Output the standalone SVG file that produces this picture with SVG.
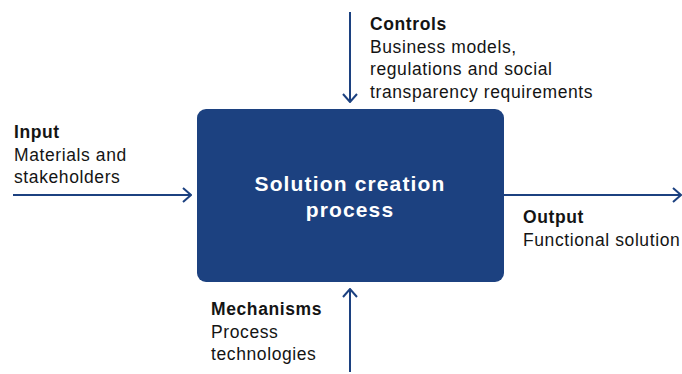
<svg xmlns="http://www.w3.org/2000/svg" width="682" height="374" viewBox="0 0 682 374">
<style>
.lbl{font-family:"Liberation Sans",Arial,sans-serif;font-size:17.5px;fill:#141414;letter-spacing:0.6px}
.b{font-weight:bold}
.ttl{font-family:"Liberation Sans",Arial,sans-serif;font-size:21px;font-weight:bold;fill:#ffffff;letter-spacing:1.15px}
.ln{stroke:#1c4180;stroke-width:2;fill:none}
</style>
<defs>
<marker id="ah" viewBox="0 0 10 16" refX="9" refY="8" markerWidth="10" markerHeight="16" markerUnits="userSpaceOnUse" orient="auto">
<path d="M1,1 L9,8 L1,15" fill="none" stroke="#1c4180" stroke-width="2"/>
</marker>
</defs>
<g id="connectors">
<line class="ln" x1="350" y1="12" x2="350" y2="102" marker-end="url(#ah)"/>
<line class="ln" x1="13" y1="195" x2="191" y2="195" marker-end="url(#ah)"/>
<line class="ln" x1="504" y1="195" x2="681" y2="195" marker-end="url(#ah)"/>
<line class="ln" x1="350" y1="372" x2="350" y2="289" marker-end="url(#ah)"/>
</g>
<g id="process">
<rect x="197" y="109" width="307" height="173" rx="9" fill="#1c4180"/>
<text class="ttl" text-anchor="middle" x="350" y="191">Solution creation</text>
<text class="ttl" text-anchor="middle" x="350" y="217">process</text>
</g>
<g id="controls">
<text class="lbl b" x="370" y="30">Controls</text>
<text class="lbl" x="370" y="52.5">Business models,</text>
<text class="lbl" x="370" y="75">regulations and social</text>
<text class="lbl" x="370" y="97.5">transparency requirements</text>
</g>
<g id="input">
<text class="lbl b" x="14" y="138">Input</text>
<text class="lbl" x="14" y="161">Materials and</text>
<text class="lbl" x="14" y="183">stakeholders</text>
</g>
<g id="output">
<text class="lbl b" x="523" y="223">Output</text>
<text class="lbl" x="523" y="246">Functional solution</text>
</g>
<g id="mechanisms">
<text class="lbl b" x="211" y="315">Mechanisms</text>
<text class="lbl" x="211" y="338">Process</text>
<text class="lbl" x="211" y="360">technologies</text>
</g>
</svg>
